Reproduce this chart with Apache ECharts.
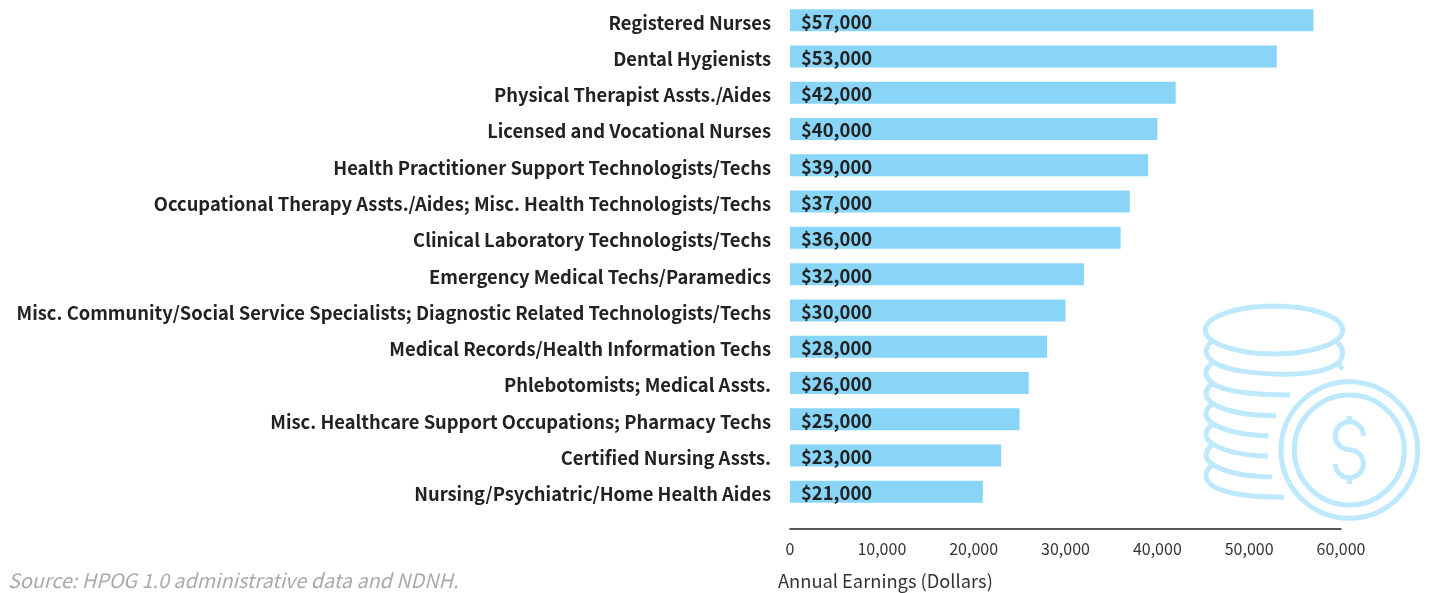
<!DOCTYPE html>
<html>
<head>
<meta charset="utf-8">
<title>Annual Earnings</title>
<script src="https://cdn.jsdelivr.net/npm/echarts@6/dist/echarts.min.js"></script>
<style>
  html, body { margin: 0; padding: 0; background: #fff; }
  #chart { width: 1429px; height: 593px; }
</style>
</head>
<body>
<div id="chart"></div>
<script>
var occupations = [
  'Registered Nurses',
  'Dental Hygienists',
  'Physical Therapist Assts./Aides',
  'Licensed and Vocational Nurses',
  'Health Practitioner Support Technologists/Techs',
  'Occupational Therapy Assts./Aides; Misc. Health Technologists/Techs',
  'Clinical Laboratory Technologists/Techs',
  'Emergency Medical Techs/Paramedics',
  'Misc. Community/Social Service Specialists; Diagnostic Related Technologists/Techs',
  'Medical Records/Health Information Techs',
  'Phlebotomists; Medical Assts.',
  'Misc. Healthcare Support Occupations; Pharmacy Techs',
  'Certified Nursing Assts.',
  'Nursing/Psychiatric/Home Health Aides'
];
var earnings = [57000, 53000, 42000, 40000, 39000, 37000, 36000, 32000, 30000, 28000, 26000, 25000, 23000, 21000];

var FONT = '"Noto Sans CJK SC", "Noto Sans", sans-serif';
var ICON = '#bee8fc';

// coin stack, drawn as decoration behind the bars
var coinPaths = [
  'M95 155 C70 175 72 200 110 222 C170 255 400 270 470 222 C498 200 490 172 470 155',
  'M470 215 L488 238',
  'M95 220 C70 240 72 265 105 285 C150 308 240 315 330 315',
  'M95 282 C70 302 72 325 105 345 C150 368 220 377 288 377',
  'M95 343 C70 363 72 387 105 405 C150 428 210 436 265 438',
  'M95 405 C70 425 72 448 105 466 C150 490 210 497 263 499',
  'M95 466 C70 486 72 510 105 528 C150 552 220 560 276 561',
  'M95 527 C70 547 72 572 105 592 C150 615 240 622 313 622',
  'M550 437 A42 42 0 1 0 508 479 A42 42 0 1 1 466 522',
  'M508 378 L508 395',
  'M508 565 L508 582'
];
// the graphic component only takes registered shapes, not raw path strings
echarts.graphic.registerShape('coinLines', echarts.graphic.extendPath(coinPaths.join(' ')));

var iconStyle = { fill: 'none', stroke: ICON, lineWidth: 15 };
var iconParts = [
  { type: 'ellipse', shape: { cx: 282, cy: 120, rx: 206, ry: 72 }, style: iconStyle },
  { type: 'circle', shape: { cx: 508, cy: 480, r: 205 }, style: iconStyle },
  { type: 'circle', shape: { cx: 508, cy: 480, r: 165 }, style: iconStyle },
  { type: 'coinLines', style: iconStyle }
];

var myChart = echarts.init(document.getElementById('chart'));
var option = {
  animation: false,
  textStyle: { fontFamily: FONT },
  title: [
    {
      text: 'Source: HPOG 1.0 administrative data and NDNH.',
      left: 8, top: 571,
      textStyle: { fontFamily: FONT, fontSize: 19.8, fontWeight: 'normal', fontStyle: 'italic', color: '#aaaaaa' },
      padding: 0
    },
    {
      text: 'Annual Earnings (Dollars)',
      left: 778, top: 572,
      textStyle: { fontFamily: FONT, fontSize: 18.3, fontWeight: 'normal', color: '#333333' },
      padding: 0
    }
  ],
  // outerBoundsMode none: the long labels must not push the grid to the right
  grid: { left: 790, top: 2, width: 551, height: 508, outerBoundsMode: 'none' },
  xAxis: {
    type: 'value',
    min: 0,
    max: 60000,
    interval: 10000,
    offset: 19,
    splitLine: { show: false },
    axisTick: { show: false },
    axisLine: { show: true, lineStyle: { color: '#222222', width: 1.5 } },
    axisLabel: {
      margin: 12,
      fontSize: 16,
      color: '#333333',
      fontFamily: FONT,
      formatter: function (v) { return v.toLocaleString('en-US'); }
    }
  },
  yAxis: {
    type: 'category',
    inverse: true,
    data: occupations,
    axisLine: { show: false },
    axisTick: { show: false },
    axisLabel: {
      margin: 19,
      fontSize: 18.35,
      fontWeight: 'bold',
      color: '#222222',
      fontFamily: FONT,
      interval: 0,
      // sits a little below the bar centre in the reference; padding has no effect here
      verticalAlign: 'top',
      lineHeight: 5
    }
  },
  graphic: [{
    type: 'group',
    x: 1180, y: 290, scaleX: 1 / 3, scaleY: 1 / 3,
    z: 0, silent: true,
    children: iconParts
  }],
  series: [{
    type: 'bar',
    data: earnings,
    barWidth: 22,
    itemStyle: { color: '#89d5f7' },
    label: {
      show: true,
      position: 'insideLeft',
      distance: 11,
      offset: [0, 1.5],
      fontSize: 18.4,
      fontWeight: 'bold',
      color: '#222222',
      fontFamily: FONT,
      formatter: function (p) { return '$' + p.value.toLocaleString('en-US'); }
    }
  }]
};
myChart.setOption(option);

window.onresize = function () {
  myChart.resize();
};
</script>
</body>
</html>
